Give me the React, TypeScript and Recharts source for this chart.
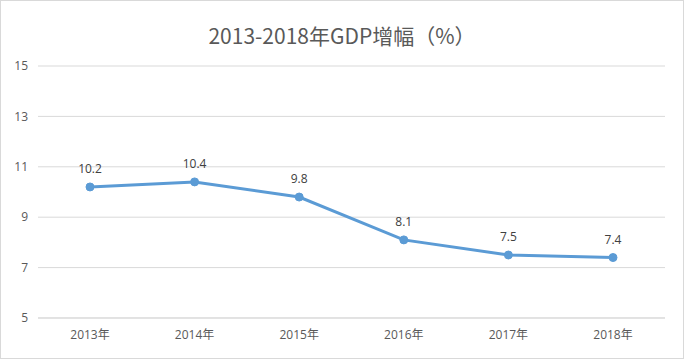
import { CartesianGrid, LabelList, Line, LineChart, XAxis, YAxis } from "recharts";

const years = ["2013年", "2014年", "2015年", "2016年", "2017年", "2018年"];
const growth = [10.2, 10.4, 9.8, 8.1, 7.5, 7.4];
const yTicks = [5, 7, 9, 11, 13, 15];

const data = years.map((year, i) => ({ year, value: growth[i] }));

const tickFont = { fontSize: 12, fill: "#595959", fontFamily: "'Open Sans', 'Noto Sans CJK SC', sans-serif" };

export default function App() {
  return (
    <div style={{ position: "absolute", left: 0, top: 0, width: 684, height: 359, boxSizing: "border-box", border: "1px solid #d9d9d9", background: "#fff" }}>
      <div style={{ position: "absolute", left: 0, width: 682, top: 20, textAlign: "center", fontSize: 21, lineHeight: "28px", color: "#595959", fontFamily: "'Noto Sans CJK SC', sans-serif" }}>
        2013-2018年GDP增幅（%）
      </div>
      <LineChart width={682} height={357} data={data} margin={{ top: 65, right: 18, bottom: 10, left: -1 }} style={{ position: "absolute", left: 0, top: 0 }}>
        <CartesianGrid vertical={false} stroke="#d9d9d9" />
        <XAxis dataKey="year" axisLine={{ stroke: "#d9d9d9" }} tickLine={false} tick={tickFont} tickMargin={6} padding={{ left: 52, right: 52 }} />
        <YAxis domain={[5, 15]} ticks={yTicks} width={38} axisLine={false} tickLine={false} tick={tickFont} tickMargin={4} />
        <Line type="linear" dataKey="value" stroke="#5b9bd5" strokeWidth={3} dot={{ r: 4, fill: "#5b9bd5", stroke: "#5b9bd5", strokeWidth: 1 }} isAnimationActive={false}>
          <LabelList dataKey="value" position="top" offset={14} style={{ fontSize: 12, fill: "#404040", fontFamily: "'Open Sans', sans-serif" }} />
        </Line>
      </LineChart>
    </div>
  );
}
